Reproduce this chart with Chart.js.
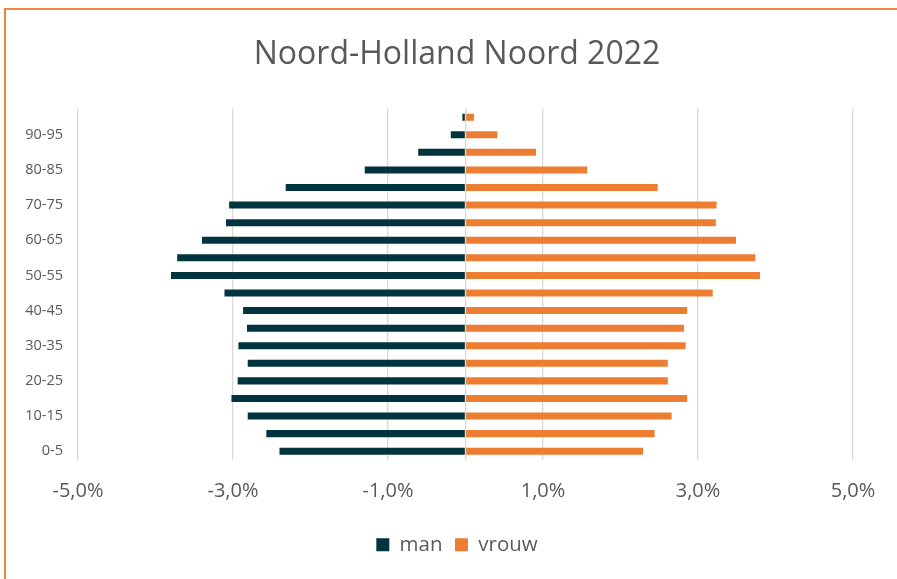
<!DOCTYPE html>
<html>
<head>
<meta charset="utf-8">
<script src="https://cdn.jsdelivr.net/npm/chart.js@4/dist/chart.umd.min.js"></script>
<style>
  html, body { margin: 0; padding: 0; width: 897px; height: 579px; overflow: hidden; background: #ffffff; }
  #wrap { position: absolute; left: 0; top: 0; width: 897px; height: 579px; }
  #frame { position: absolute; left: 4px; top: 8px; width: 1000px; height: 1000px; border-left: 2px solid #EE8640; border-top: 2px solid #EE8640; pointer-events: none; }
</style>
</head>
<body>
<div id="wrap"><canvas id="c" width="897" height="579"></canvas></div>
<div id="frame"></div>
<script>
const title = 'Noord-Holland Noord 2022';
const categories = ['0-5','5-10','10-15','15-20','20-25','25-30','30-35','35-40','40-45','45-50',
                    '50-55','55-60','60-65','65-70','70-75','75-80','80-85','85-90','90-95','95+'];
const manValues   = [-2.40,-2.57,-2.81,-3.02,-2.94,-2.81,-2.93,-2.82,-2.87,-3.11,
                     -3.80,-3.72,-3.40,-3.09,-3.05,-2.32,-1.30,-0.61,-0.19,-0.04];
const vrouwValues = [2.29,2.44,2.66,2.86,2.61,2.61,2.84,2.82,2.86,3.19,
                     3.80,3.74,3.49,3.23,3.24,2.48,1.57,0.91,0.41,0.11];
const seriesNames = ['man','vrouw'];
const xTicks = [-5,-3,-1,1,3,5];

const textColor = '#595959';
const fontFam = "'Open Sans', 'Noto Sans', sans-serif";

new Chart(document.getElementById('c'), {
  type: 'bar',
  data: {
    labels: categories,
    datasets: [
      { label: seriesNames[0], data: manValues, backgroundColor: '#02343F', borderWidth: 0 },
      { label: seriesNames[1], data: vrouwValues, backgroundColor: '#ED7D31', borderWidth: 0 }
    ]
  },
  options: {
    indexAxis: 'y',
    responsive: false,
    animation: false,
    datasets: { bar: { barPercentage: 0.4, categoryPercentage: 1.0 } },
    layout: { padding: { left: 17, right: 0, top: 0, bottom: 14 } },
    plugins: {
      title: {
        display: true, text: title, color: textColor,
        font: { family: fontFam, size: 32, weight: 'normal' },
        padding: { top: 36, bottom: 34 }
      },
      legend: {
        position: 'bottom',
        labels: {
          color: textColor, boxWidth: 13, boxHeight: 13, padding: 12.5,
          font: { family: fontFam, size: 20.5 }
        }
      },
      tooltip: { enabled: false }
    },
    scales: {
      x: {
        stacked: true,
        min: xTicks[0], max: xTicks[xTicks.length - 1],
        ticks: {
          stepSize: 2, color: textColor, padding: 19, maxRotation: 0,
          font: { family: fontFam, size: 20 },
          callback: (v) => v === 0 ? '' : v.toFixed(1).replace('.', ',') + '%'
        },
        afterBuildTicks: (s) => {
          s.ticks = xTicks.concat([0]).sort((a, b) => a - b).map(v => ({ value: v }));
        },
        afterFit: (s) => { s.height = 62; },
        grid: { color: '#D9D9D9', lineWidth: 1.3, drawTicks: false },
        border: { display: false }
      },
      y: {
        stacked: true,
        reverse: true,
        ticks: {
          color: textColor, padding: 15, autoSkip: false,
          font: { family: fontFam, size: 14.5 },
          callback: function (v, i) { return i % 2 === 0 ? this.getLabelForValue(v) : ''; }
        },
        afterFit: (s) => { s.width = 61; },
        grid: { display: false, drawTicks: false },
        border: { display: false }
      },
      yRight: {
        type: 'linear',
        position: 'right',
        ticks: { display: false },
        grid: { display: false, drawTicks: false },
        border: { display: false },
        afterFit: (s) => { s.width = 44; }
      }
    }
  }
});
</script>
</body>
</html>
